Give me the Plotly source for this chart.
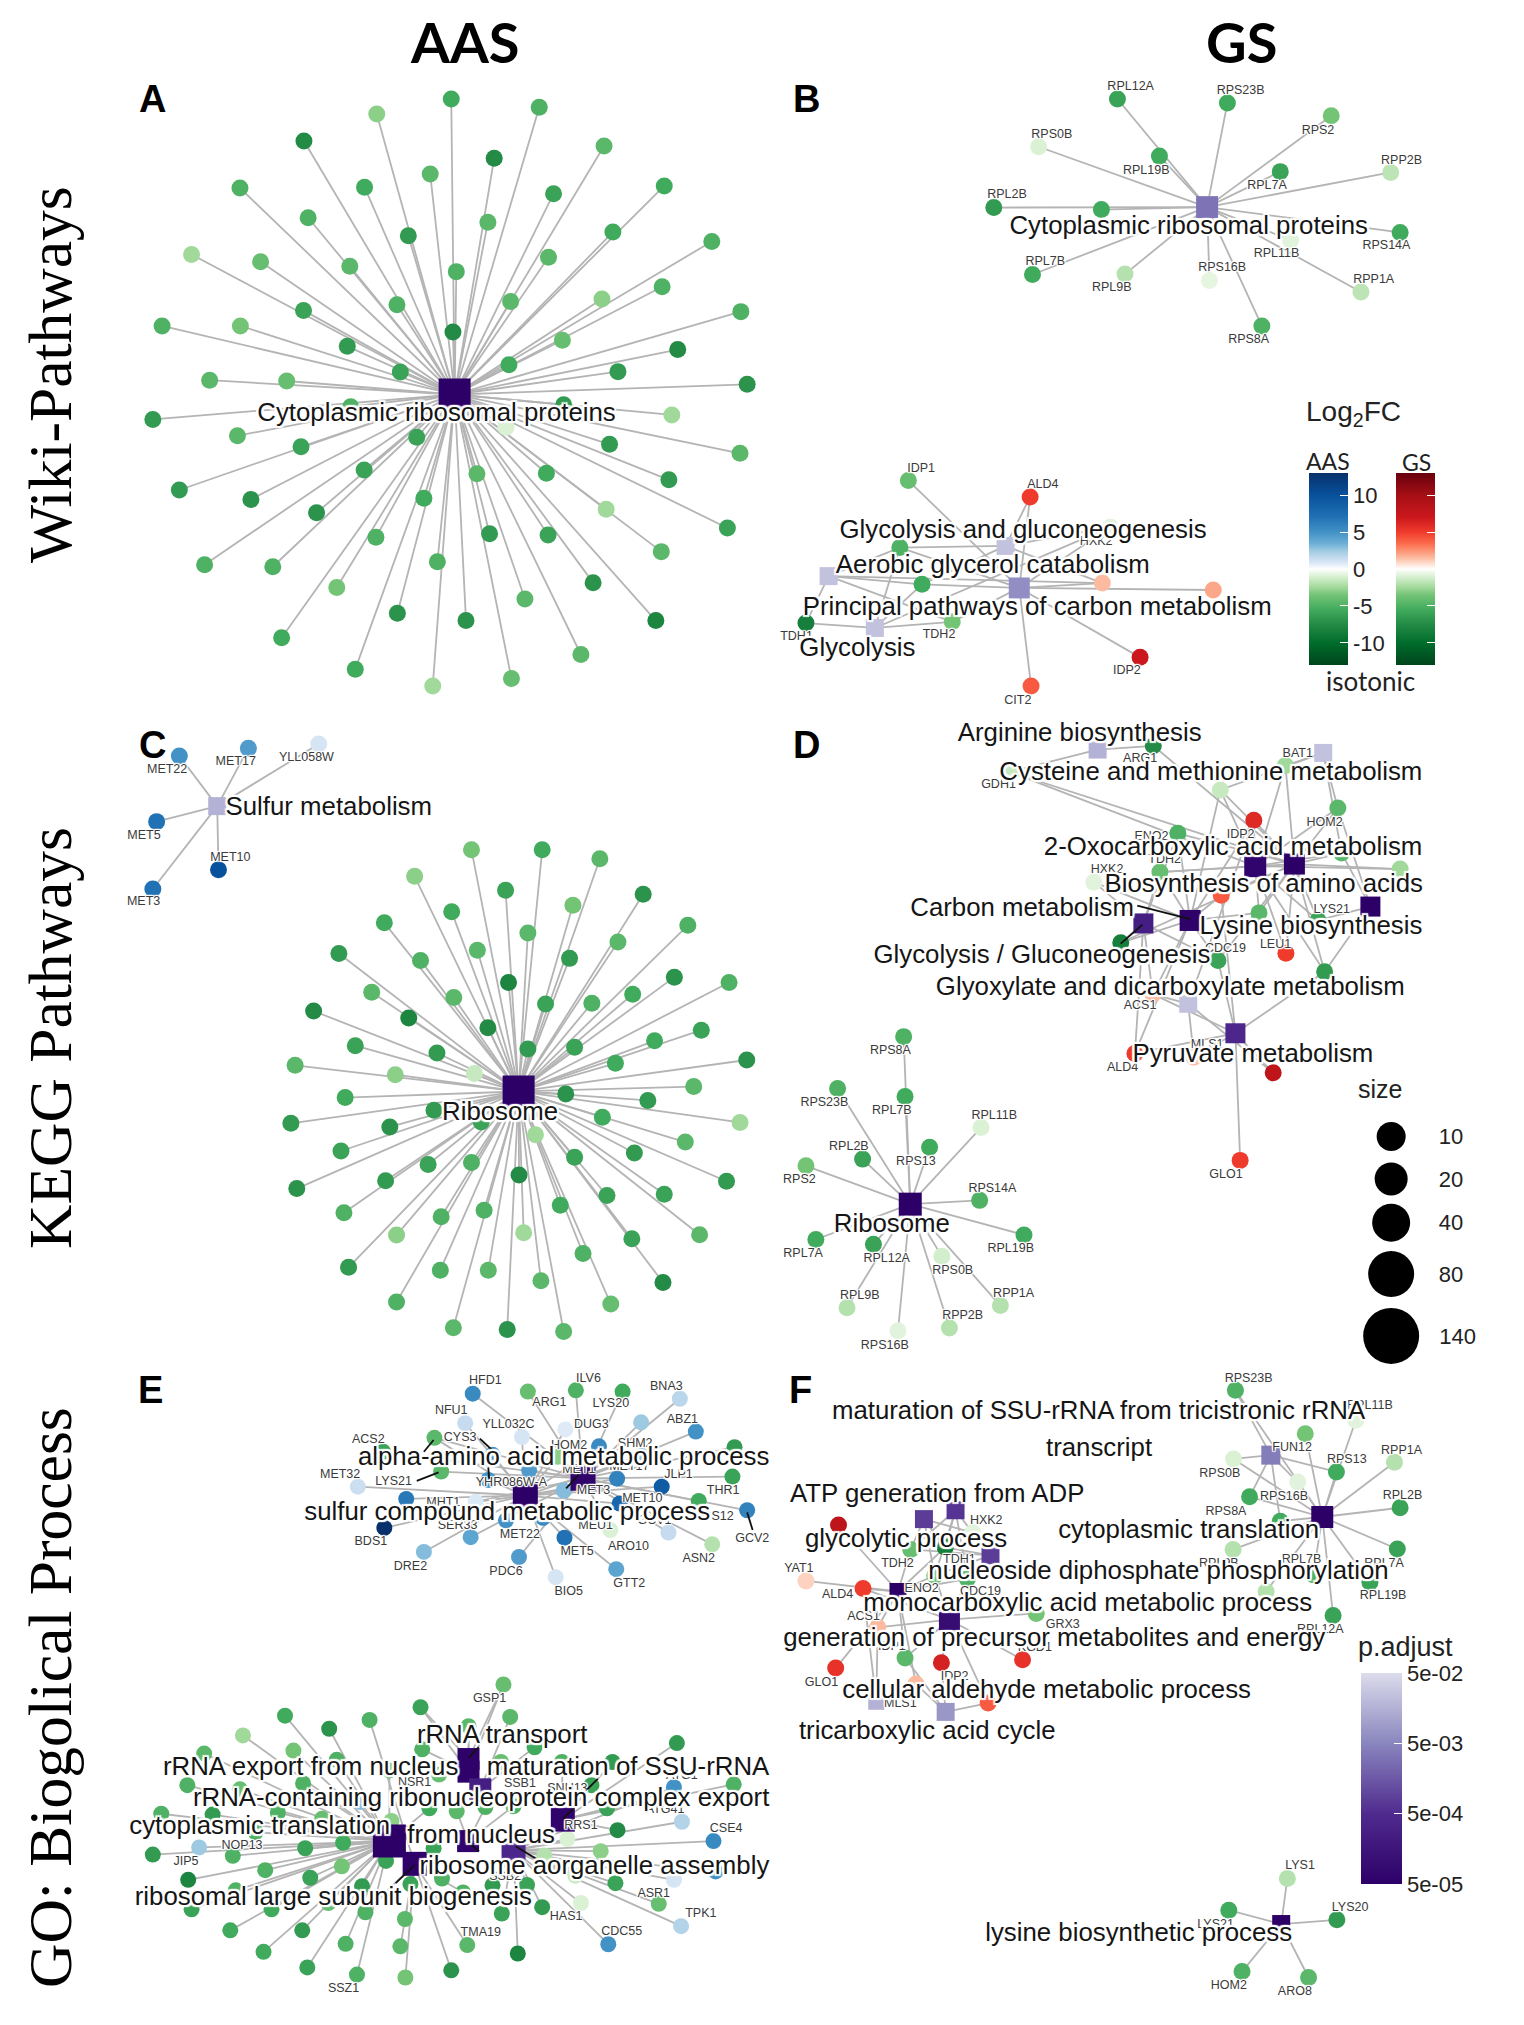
import plotly.graph_objects as go

W, H = 1524, 2025
# crop of the page covered by each panel: left, top, right, bottom (data units 0..1568)
PANEL_BOX = {"A": (120, 70, 780, 710), "B": (780, 70, 1520, 710), "C": (120, 720, 780, 1360),
             "D": (780, 710, 1520, 1370), "E": (120, 1360, 780, 2020), "F": (780, 1360, 1520, 2020)}

# ---------- Panel A
a_x = [787,996,610,437,889,1150,737,581,285,1030,1293,447,874,685,1171,1406,170,334,1018,546,799,1145,1288,928,658,436,1475,286,100,791,1051,540,1325,924,666,1183,213,396,1490,1311,1054,548,78,279,917,430,705,1163,1473,1013,848,580,1304,141,311,722,467,1155,608,878,1017,1443,1286,201,363,754,1124,515,962,659,822,1273,384,1095,559,930,743]
a_y = [71,91,108,174,216,186,255,287,289,303,284,362,373,406,397,420,452,470,459,481,494,561,531,567,575,589,592,627,627,642,662,677,685,722,740,739,760,762,770,845,820,825,856,896,875,923,900,917,939,988,989,980,1004,1029,1052,1049,1085,1076,1145,1136,1139,1122,1180,1212,1217,1205,1256,1268,1296,1331,1349,1349,1391,1432,1468,1491,1509]
a_v = [-5.5,-5,-3,-7.5,-7.5,-4.5,-4.5,-5.5,-5,-6,-5.5,-5,-4.5,-6.5,-5.5,-5,-2.5,-4,-4.5,-4.5,-5,-3,-5,-4.5,-5,-6,-5,-3.5,-5,-7.5,-4,-6.5,-7.5,-5.5,-6,-6.5,-4.5,-4,-7,-2.5,-6.5,-5,-6.5,-4.5,-1,-6,-6,-6.5,-4.5,-5.5,-4.5,-6,-6.5,-6.5,-7,-5.5,-7,-2.5,-5,-6.5,-6,-6,-4.5,-5,-5,-5,-7,-3.5,-4.5,-7,-7,-8,-5.5,-4.5,-5.5,-4,-2.5]
a_links = ["0"] * len(a_x)
a_hub_x = [795]; a_hub_y = [795]; a_hub_p = [-4.3]; a_hub_s = [32]
a_cat = ["Cytoplasmic ribosomal proteins"]; a_cat_x = [752]; a_cat_y = [844]
a_gene = []; a_gene_x = []; a_gene_y = []
a_lead = []

# ---------- Panel B
b_x = [715,948,1168,548,804,1060,1294,453,681,1314,1082,535,731,910,1231,1021,272,530,700,254,301,683,918,365,55,763,532]
b_y = [71,81,112,188,211,249,251,337,342,398,417,501,500,516,544,627,1006,1046,1120,1170,1260,1257,1274,1352,1355,1439,1509]
b_v = [-6,-5.5,-3.5,-1,-5.5,-6,-1.8,-6.5,-5.5,-5.5,-0.8,-5.5,-2,-0.7,-1.8,-5,-4,5,-0.8,-5,-5.5,1.5,2,-3.5,-8.5,7,4]
b_links = ["0"]*16 + ["3","13","134","1234","1234","123","3","234","24","3","3"]
b_hub_x = [905,478,103,507,201]; b_hub_y = [336,1166,1240,1269,1367]
b_hub_p = [-2.5,-1.6,-1.6,-2.2,-1.6]; b_hub_s = [22,18,18,21,18]
b_cat = ["Cytoplasmic ribosomal proteins","Glycolysis and gluconeogenesis","Aerobic glycerol catabolism","Principal pathways of carbon metabolism","Glycolysis"]
b_cat_x = [866,515,451,545,164]; b_cat_y = [387,1130,1217,1319,1420]
b_gene = ["RPL12A","RPS23B","RPS2","RPS0B","RPL19B","RPL7A","RPP2B","RPL2B","RPS14A","RPL11B","RPL7B","RPL9B","RPS16B","RPP1A","RPS8A","IDP1","ALD4","HXK2","TDH2","TDH1","IDP2","CIT2"]
b_gene_x = [743,976,1140,576,776,1032,1317,481,1285,1052,562,703,937,1258,993,299,557,670,337,35,735,504]
b_gene_y = [42,51,148,159,247,284,222,307,432,451,470,535,486,515,662,977,1017,1157,1385,1390,1473,1545]
b_lead = []

# ---------- Panel C
c_x = [141,305,472,87,234,78,835,1003,1140,700,916,1243,1076,788,628,969,1349,1183,849,520,1068,714,1317,923,1447,598,1218,1011,793,1121,460,686,874,1270,1381,559,753,969,1080,1177,1489,416,654,842,535,1059,1363,1254,746,406,858,1146,1473,641,987,1343,525,1222,1080,835,732,948,420,631,1441,1157,1293,1046,865,532,763,657,959,1377,1216,1100,543,761,875,1000,1290,657,1166,792,920,1054]
c_y = [88,69,59,249,367,414,318,318,340,383,417,427,454,470,497,522,503,544,564,572,584,589,630,643,643,667,672,696,680,694,713,730,754,786,760,798,816,806,802,841,833,846,869,866,925,916,898,932,956,988,985,973,986,997,1016,1034,1056,1061,1071,1084,1089,1115,1148,1129,1130,1165,1162,1189,1201,1207,1217,1262,1256,1261,1271,1307,1341,1348,1348,1374,1378,1426,1431,1489,1493,1498]
c_v = [5,4.5,1,7,10,7,-3.5,-5.5,-4.5,-3,-6,-7,-3.5,-5.5,-5.5,-4.5,-5,-4.5,-4.5,-6.5,-6.5,-5,-7,-8,-5,-4.5,-5.5,-6,-4.5,-5,-7.5,-8,-7.5,-5.5,-6,-6,-6.5,-6.5,-6,-5.5,-7,-4.5,-3,-1.5,-5.5,-7,-4.5,-6.5,-6.5,-6.5,-6,-5.5,-2.5,-7,-2.5,-4.5,-6,-6.5,-6,-5,-6,-7.5,-7,-6.5,-6.5,-6,-6,-5.5,-5,-5,-5,-3,-2.5,-4.5,-6,-5,-6.5,-5,-4.5,-4.5,-7.5,-5,-4,-4.5,-7,-4.5]
c_links = ["0"]*6 + ["1"]*80
c_hub_x = [231,947]; c_hub_y = [211,910]; c_hub_p = [-1.8,-4.3]; c_hub_s = [18,32]
c_cat = ["Sulfur metabolism","Ribosome"]; c_cat_x = [496,903]; c_cat_y = [217,964]
c_gene = ["MET22","MET17","YLL058W","MET5","MET10","MET3"]
c_gene_x = [112,275,443,57,262,56]; c_gene_y = [121,102,93,283,339,446]
c_lead = []

# ---------- Panel D
d_x = [791,487,1071,933,1182,1004,843,1190,805,1314,665,935,1015,1140,722,928,1072,1154,790,752,877,1045,975,262,265,122,426,175,317,55,423,517,76,198,343,467,142,359,250]
d_y = [85,147,132,190,233,262,293,340,385,378,409,440,482,500,553,595,578,622,675,816,825,862,1070,776,918,899,992,1067,1039,1083,1165,1247,1258,1269,1298,1415,1420,1468,1475]
d_v = [-7.5,-1.5,-2.5,-1.5,-4.5,6,-5,-4.5,-4,-2.5,-0.8,4,-4.5,-6,-8.5,-6,5,-6.5,1.5,5,1.5,8,5,-5,-5.5,-5,-1,-6,-5.5,-3.5,-5,-5.5,-5.5,-6,-1.2,-2,-2,-2,-0.8]
d_links = ["03","023","123","1235","1234","2357","356","1234","2356","23","56","358","235","234","356","3568","23","2348","5678","568","78","78","8"] + ["9"]*16
d_hub_x = [673,1151,1007,1090,1251,869,770,865,965,276]; d_hub_y = [94,102,371,366,467,500,507,698,768,1174]
d_hub_p = [-1.8,-1.6,-4.2,-4.3,-4.3,-4.25,-3.6,-1.6,-3.4,-4.3]; d_hub_s = [18,18,22,21,20,21,20,18,20,23]
d_cat = ["Arginine biosynthesis","Cysteine and methionine metabolism","2-Oxocarboxylic acid metabolism","Biosynthesis of amino acids","Carbon metabolism","Lysine biosynthesis","Glycolysis / Gluconeogenesis","Glyoxylate and dicarboxylate metabolism","Pyruvate metabolism","Ribosome"]
d_cat_x = [635,913,960,1025,513,1125,555,827,1002,237]; d_cat_y = [58,152,330,417,473,518,585,662,820,1224]
d_gene = ["ARG1","GDH1","BAT1","HOM2","IDP2","ENO2","TDH2","HXK2","LYS21","CDC19","LEU1","ACS1","ALD4","MLS1","GLO1","RPS8A","RPL7B","RPS23B","RPL11B","RPL2B","RPS13","RPS2","RPS14A","RPL19B","RPL7A","RPL12A","RPS0B","RPP1A","RPL9B","RPP2B","RPS16B"]
d_gene_x = [763,463,1097,1154,976,787,815,693,1169,944,1050,763,726,905,945,234,237,94,454,146,288,41,450,489,49,226,366,495,169,387,222]
d_gene_y = [117,178,104,268,296,302,357,380,474,567,558,703,851,795,1104,811,953,933,964,1038,1073,1117,1137,1281,1292,1304,1332,1386,1391,1439,1510]
d_lead = [(757,465,869,497),(768,510,722,555)]

# ---------- Panel E
e_x = [838,969,1083,1194,1330,820,955,1058,1238,1368,625,747,1040,1240,1138,885,1460,763,972,1181,1287,1455,565,1375,875,1054,845,680,1187,1490,628,833,917,1005,1165,1303,1407,722,948,1056,1179,1035,
       911,714,392,927,593,497,292,828,412,200,1323,985,718,1170,515,905,640,285,1050,1458,160,435,1316,758,1120,570,98,220,735,800,868,935,1157,375,480,645,322,1335,1182,1063,1410,188,268,78,440,530,1142,1008,745,632,345,527,162,452,1415,1082,1316,1177,575,765,275,885,967,690,815,1095,1280,495,170,360,583,677,1003,907,1333,262,433,1160,536,825,666,341,945,445,787,563,678]
e_y = [80,75,72,75,92,150,183,165,148,170,218,185,230,228,205,225,207,265,262,282,301,277,301,335,285,310,337,330,341,357,399,421,381,375,404,410,438,456,468,422,497,516,
       771,825,845,848,855,876,892,870,928,935,910,920,925,955,950,955,975,1020,955,1008,1010,1006,1015,985,1010,1050,1078,1080,1065,1072,1062,1060,1065,1075,1090,1095,1122,1097,1117,1138,1143,1158,1178,1175,1160,1147,1167,1177,1160,1190,1212,1203,1235,1230,1215,1225,1235,1243,1250,1232,1260,1248,1247,1245,1265,1290,1292,1290,1305,1305,1312,1328,1300,1315,1345,1355,1355,1388,1387,1390,1393,1406,1410,1443,1450,1460,1467]
e_v = [5.5,-4,-5,-5.5,1.8,1.5,1,0.7,2.5,5,-6,-4.5,-3,3,5.5,5,-6.5,-4.5,4.5,6,9,-6,1.3,-5.5,5,3,0.8,6.5,8,6,13,4,5,5.5,-1,1.5,-2,3,4.5,7,4,1,
       -4,-6,-5.5,-4.5,-5,-7,-2.5,-4.5,-3.5,-4.5,-6.5,-5.5,-5,-6.5,-5,-4,-4,-4,-5,-5,-5,-5,5,-4,-6,3,-5,-6.5,-5.5,-4.5,-5,-5,-6,-5,-4,-3,-5,2,-7.5,-1,5.5,2.5,-5,-6.5,-6,-5.5,-3,-2,-6,-6,-5,-3.5,-8,-6,5,-1.5,1,-6,-6.5,-5,-5,-6.5,-6,-6,-5,-1,-4,-4,-6,-5.5,-5,-4.5,-6.5,-6,2,-5.5,-6.5,5,-5,-4.5,-4.5,-5.5,-8,-6,-7,-5,-3.5]
e_links = ["1","1","1","1","1","0","0","0","1","1","1","01","01","01","01","0","1","1","01","01","0","1","0","1","0","0","01","0","0","1","0","1","0","0","1","1","1","0","1","0","0","0",
           "67","67","2","8","3","2","2","67","2","2","9","8","7","9","2","8","2","2","9","9","2","2","5","7","9","2","2","2","2","4","4","4","9","2","2","2","2","5","9","5","5","2","2","2","2","2","5","5","3","2","2","2","2","2","5","5","5","5","2","3","2","5","5","3","3","5","5","2","2","2","3","3","5","5","5","2","2","5","2","3","3","2","5","2","3","2","3"]
e_hub_x = [963,1100,640,700,827,935,828,828,856,1052]; e_hub_y = [322,281,1143,1197,1143,1165,948,978,1020,1092]
e_hub_p = [-4.3,-4.2,-4.3,-4.25,-4.2,-3.4,-4.25,-4.25,-3.6,-4.2]; e_hub_s = [25,25,33,24,22,24,22,22,22,24]
e_cat = ["alpha-amino acid metabolic process","sulfur compound metabolic process","rRNA transport","rRNA export from nucleus","maturation of SSU-rRNA","rRNA-containing ribonucleoprotein complex export","cytoplasmic translation","from nucleus","ribosome aorganelle assembly","ribosomal large subunit biogenesis"]
e_cat_x = [1054,920,908,453,1207,858,332,858,1127,507]; e_cat_y = [233,366,895,970,970,1045,1110,1132,1207,1280]
e_gene = ["HFD1","ARG1","ILV6","LYS20","BNA3","NFU1","YLL032C","DUG3","ABZ1","ACS2","CYS3","HOM2","SHM2","LYS21","MET1","MET17","JLP1","MET32","THR1","YHR086W-A","MET3","MHT1","MET10","GCV2","BDS1","SER33","MET22","MEU1","GCV1","GS12","ASN2","DRE2","PDC6","MET5","ARO10","GTT2","BIO5",
          "GSP1","NSR1","SSB1","SNU13","ATG1","ATG41","RRS1","CSE4","JIP5","NOP13","SSB2","ASR1","HAS1","TPK1","CDC55","TMA19","SSZ1"]
e_gene_x = [868,1020,1113,1166,1298,787,923,1120,1336,590,808,1067,1224,650,1090,1210,1327,523,1433,930,1125,768,1241,1502,596,802,950,1130,1270,1420,1375,690,917,1086,1208,1210,1066,
            878,700,950,1063,1335,1295,1095,1440,157,290,915,1268,1060,1380,1192,857,531]
e_gene_y = [50,102,44,105,64,122,154,153,142,190,185,204,199,290,262,255,273,272,312,293,312,340,330,424,433,393,415,394,382,372,472,492,504,457,445,532,550,
            805,1004,1007,1018,989,1069,1107,1115,1192,1154,1228,1268,1322,1317,1359,1360,1495]
e_lead = [(745,190,722,218),(855,187,885,215),(875,255,877,282),(705,287,757,267),(1060,305,1090,272),(1490,362,1503,404),
          (828,945,852,920),(1110,1020,1135,995),(1052,1090,1078,1065),(823,1143,853,1167),(940,1155,1000,1192),(700,1200,655,1243)]

# ---------- Panel F
f_x = [965,1220,1113,961,1179,1302,1097,995,1314,1060,960,1308,1130,1250,1030,1172,408,124,277,350,328,397,55,176,543,207,265,118,342,514,288,441,1075,951,1180,979,1120]
f_y = [72,143,175,235,266,243,290,325,351,383,450,449,510,528,550,607,410,392,450,445,512,520,525,543,602,635,708,732,719,712,770,815,1232,1307,1330,1453,1467]
f_v = [-5,-0.8,-3.5,-1,-5.5,-2,-0.8,-5.5,-6,-5.5,-2,-6,-5,-6,-2,-6,-0.8,8,-4,-8.5,-4,-5,1,5,-3.5,1.5,-4.5,5.5,6.5,5.5,1.5,4,-2,-5.5,-6.5,-5,-4.5]
f_links = ["01","1","1","01","01","1","01","01","1","01","1","1","1","1","1","1","234","5","2345","2345","23456","23456","5","568","6","568","567","5","67","6","578","67","9","9","9","9","9"]
f_hub_x = [1040,1149,305,372,446,250,359,351,204,1062]; f_hub_y = [226,373,378,357,464,550,617,836,812,1340]
f_hub_p = [-2.4,-4.3,-3.1,-3.2,-3.1,-4.3,-4.0,-2.1,-1.8,-4.3]; f_hub_s = [19,22,18,18,18,17,21,18,16,18]
f_cat = ["maturation of SSU-rRNA from tricistronic rRNA","transcript","ATP generation from ADP","glycolytic process","cytoplasmic translation","nucleoside diphosphate phosphorylation","monocarboxylic acid metabolic process","generation of precursor metabolites and energy","cellular aldehyde metabolic process","tricarboxylic acid cycle","lysine biosynthetic process"]
f_cat_x = [675,676,333,267,866,802,652,581,565,312,760]; f_cat_y = [125,213,321,429,407,505,580,663,787,886,1366]
f_gene = ["RPS23B","RPL11B","FUN12","RPS0B","RPS13","RPP1A","RPS16B","RPS8A","RPL2B","RPL9B","RPL7A","RPL7B","RPL19B","RPL12A","HXK2","TDH2","TDH1","CDC19","ENO2","YAT1","ALD4","GRX3","ACS1","IDP1","GLO1","IDP2","KGD1","MLS1","LYS1","LYS21","LYS20","HOM2","ARO8"]
f_gene_x = [993,1250,1085,932,1201,1317,1068,945,1319,930,1280,1105,1278,1145,437,249,380,425,300,40,122,599,177,237,88,370,540,255,1102,923,1208,951,1091]
f_gene_y = [45,110,209,270,237,215,325,360,322,484,484,475,560,642,383,484,475,550,544,497,557,630,610,682,767,752,684,817,1203,1342,1301,1488,1501]
f_lead = []

# ---------- Legends
size_levels = [10,20,40,80,140]; size_px = [29,33,38,46,56]
size_x = [1295]*5; size_y = [1013,1114,1218,1340,1487]; size_lab_y = [1018,1119,1223,1345,1492]; size_lab_x = [1422,1422,1422,1422,1436]
fc_ticks = [-10,-5,0,5,10]; fc_ticktext = ["-10","-5","0","5","10"]
p_ticks = [-4.301,-3.301,-2.301,-1.301]; p_ticktext = ["5e-05","5e-04","5e-03","5e-02"]
titles = ["AAS","GS"]; title_x = [465,1241]; title_y = [42,42]
side = ["Wiki-Pathways","KEGG Pathways","GO: Biogolical Process"]; side_x = [50,50,50]; side_y = [375,1038,1698]
letters = ["A","B","C","D","E","F"]; letter_x = [152,806,152,806,150,800]; letter_y = [99,99,745,745,1390,1390]

FC_MIN, FC_MAX = -13, 13
def fc_scale(pos):
    stops = [(-13,"#00441b"),(-10,"#006d2c"),(-7.5,"#238b45"),(-5.5,"#41ab5d"),(-3.5,"#74c476"),(-2.5,"#a1d99b"),(-1.5,"#c7e9c0"),(-0.7,"#e5f5e0"),(0,"#ffffff")] + pos
    return [[(v - FC_MIN) / (FC_MAX - FC_MIN), c] for v, c in stops]
BLUES = fc_scale([(0.7,"#deebf7"),(1.5,"#c6dbef"),(2.5,"#9ecae1"),(3.5,"#6baed6"),(5,"#4292c6"),(7,"#2171b5"),(10,"#08519c"),(13,"#08306b")])
REDS = fc_scale([(0.7,"#fee0d2"),(1.5,"#fcbba1"),(2.5,"#fc9272"),(3.5,"#fb6a4a"),(5,"#ef3b2c"),(7,"#cb181d"),(10,"#a50f15"),(13,"#67000d")])
PURPLES = [[0,"#2d0068"],[0.33,"#4f2a8e"],[0.66,"#8884bd"],[1,"#dcdcec"]]

SANS = "Liberation Sans"
def halo(r):
    d = [(r,0),(-r,0),(0,r),(0,-r),(r,r),(-r,r),(r,-r),(-r,-r)]
    return ", ".join(f"{a}px {b}px 1px #ffffff" for a, b in d)

fig = go.Figure()
layout = dict(width=W, height=H, autosize=False, margin=dict(l=0, r=0, t=0, b=0, pad=0),
              paper_bgcolor="white", plot_bgcolor="rgba(0,0,0,0)", showlegend=False)

def panel_axes(i, key):
    x0, y0, x1, y1 = PANEL_BOX[key]
    s = "" if i == 1 else str(i)
    layout["xaxis" + s] = dict(domain=[x0 / W, x1 / W], range=[0, 1568], visible=False, fixedrange=True, anchor="y" + s)
    layout["yaxis" + s] = dict(domain=[1 - y1 / H, 1 - y0 / H], range=[1568, 0], visible=False, fixedrange=True, anchor="x" + s)
    return "x" + s, "y" + s

def colorbar(x_left, y_top, length, thick, ticks, text, labels=True):
    return dict(x=x_left / W, xanchor="left", y=1 - y_top / H, yanchor="top", lenmode="pixels", len=length,
                thickness=thick, xpad=0, ypad=0, outlinewidth=0, ticks="inside", ticklen=8, tickcolor="white", tickwidth=1,
                tickmode="array", tickvals=ticks, ticktext=text, showticklabels=labels,
                tickfont=dict(family=SANS, size=22, color="#222222"))

def draw(i, key, nx, ny, nv, links, hx, hy, hp, hs, cat, cx, cy, gene, gx, gy, lead, scale, node_px,
         fc_bar=None, p_bar=None):
    xa, ya = panel_axes(i, key)
    ex, ey = [], []
    for x, y, l in zip(nx, ny, links):
        for ch in l:
            ex += [hx[int(ch)], x, None]; ey += [hy[int(ch)], y, None]
    fig.add_trace(go.Scatter(x=ex, y=ey, xaxis=xa, yaxis=ya, mode="lines", hoverinfo="skip", cliponaxis=False,
                             line=dict(color="#b4b4b4", width=1.8)))
    m = dict(size=node_px, color=nv, colorscale=scale, cmin=FC_MIN, cmax=FC_MAX, line=dict(width=0), opacity=1)
    if fc_bar:
        m.update(showscale=True, colorbar=fc_bar)
    fig.add_trace(go.Scatter(x=nx, y=ny, xaxis=xa, yaxis=ya, mode="markers", marker=m, cliponaxis=False))
    hm = dict(size=hs, symbol="square", color=hp, colorscale=PURPLES, cmin=-4.301, cmax=-1.301, line=dict(width=0), opacity=1)
    if p_bar:
        hm.update(showscale=True, colorbar=p_bar)
    fig.add_trace(go.Scatter(x=hx, y=hy, xaxis=xa, yaxis=ya, mode="markers", marker=hm, cliponaxis=False))
    if gene:
        fig.add_trace(go.Scatter(x=gx, y=gy, text=gene, xaxis=xa, yaxis=ya, mode="text", cliponaxis=False, hoverinfo="skip",
                                 textfont=dict(family=SANS, size=12.5, color="#3a3a3a", shadow=halo(1))))
    lx, ly = [], []
    for a, b, c, d in lead:
        lx += [a, c, None]; ly += [b, d, None]
    if lx:
        fig.add_trace(go.Scatter(x=lx, y=ly, xaxis=xa, yaxis=ya, mode="lines", hoverinfo="skip", cliponaxis=False,
                                 line=dict(color="#111111", width=1.8)))
    fig.add_trace(go.Scatter(x=cx, y=cy, text=cat, xaxis=xa, yaxis=ya, mode="text", cliponaxis=False, hoverinfo="skip",
                             textfont=dict(family=SANS, size=25.8, color="#151515", shadow=halo(2))))

aas_bar = colorbar(1309, 473, 192, 39, fc_ticks, fc_ticktext)
gs_bar = colorbar(1396, 473, 192, 39, fc_ticks, fc_ticktext, labels=False)
p_bar = colorbar(1361, 1673, 211, 41, p_ticks, p_ticktext)

draw(1, "A", a_x, a_y, a_v, a_links, a_hub_x, a_hub_y, a_hub_p, a_hub_s, a_cat, a_cat_x, a_cat_y, a_gene, a_gene_x, a_gene_y, a_lead, BLUES, 17, fc_bar=aas_bar, p_bar=p_bar)
draw(2, "B", b_x, b_y, b_v, b_links, b_hub_x, b_hub_y, b_hub_p, b_hub_s, b_cat, b_cat_x, b_cat_y, b_gene, b_gene_x, b_gene_y, b_lead, REDS, 17, fc_bar=gs_bar)
draw(3, "C", c_x, c_y, c_v, c_links, c_hub_x, c_hub_y, c_hub_p, c_hub_s, c_cat, c_cat_x, c_cat_y, c_gene, c_gene_x, c_gene_y, c_lead, BLUES, 17)
draw(4, "D", d_x, d_y, d_v, d_links, d_hub_x, d_hub_y, d_hub_p, d_hub_s, d_cat, d_cat_x, d_cat_y, d_gene, d_gene_x, d_gene_y, d_lead, REDS, 17)
draw(5, "E", e_x, e_y, e_v, e_links, e_hub_x, e_hub_y, e_hub_p, e_hub_s, e_cat, e_cat_x, e_cat_y, e_gene, e_gene_x, e_gene_y, e_lead, BLUES, 16)
draw(6, "F", f_x, f_y, f_v, f_links, f_hub_x, f_hub_y, f_hub_p, f_hub_s, f_cat, f_cat_x, f_cat_y, f_gene, f_gene_x, f_gene_y, f_lead, REDS, 17)

# size legend, on panel D's axes
fig.add_trace(go.Scatter(x=size_x, y=size_y, xaxis="x4", yaxis="y4", mode="markers", cliponaxis=False,
                         marker=dict(size=size_px, color="black", line=dict(width=0), opacity=1)))
fig.add_trace(go.Scatter(x=size_lab_x, y=size_lab_y, text=[str(s) for s in size_levels], xaxis="x4", yaxis="y4", mode="text",
                         cliponaxis=False, textfont=dict(family=SANS, size=22, color="#222222")))

def note(x, y, text, font, size, color="black", weight="normal", angle=0):
    return dict(x=x / W, y=1 - y / H, xref="paper", yref="paper", text=text, showarrow=False, textangle=angle,
                xanchor="center", yanchor="middle", font=dict(family=font, size=size, color=color, weight=weight))

ann = []
for t, x, y in zip(titles, title_x, title_y):
    ann.append(note(x, y, t, "Lato", 56, weight="bold"))
for t, x, y in zip(side, side_x, side_y):
    ann.append(note(x, y, t, "Liberation Serif", 61.5, angle=-90))
for t, x, y in zip(letters, letter_x, letter_y):
    ann.append(note(x, y, t, SANS, 38, weight="bold"))
ann.append(note(1353, 414, "Log<sub>2</sub>FC", SANS, 28, color="#222222"))
ann.append(note(1328, 461, "AAS", "Lato", 23, color="#222222"))
ann.append(note(1416, 462, "GS", "Lato", 23, color="#222222"))
ann.append(note(1370, 681, "isotonic", "Lato", 26, color="#222222"))
ann.append(note(1380, 1089, "size", SANS, 25, color="#222222"))
ann.append(note(1405, 1647, "p.adjust", SANS, 27, color="#222222"))
layout["annotations"] = ann
fig.update_layout(**layout)
fig.write_html("out.html", config={"displayModeBar": False}, post_script="document.body.style.margin='0';")
